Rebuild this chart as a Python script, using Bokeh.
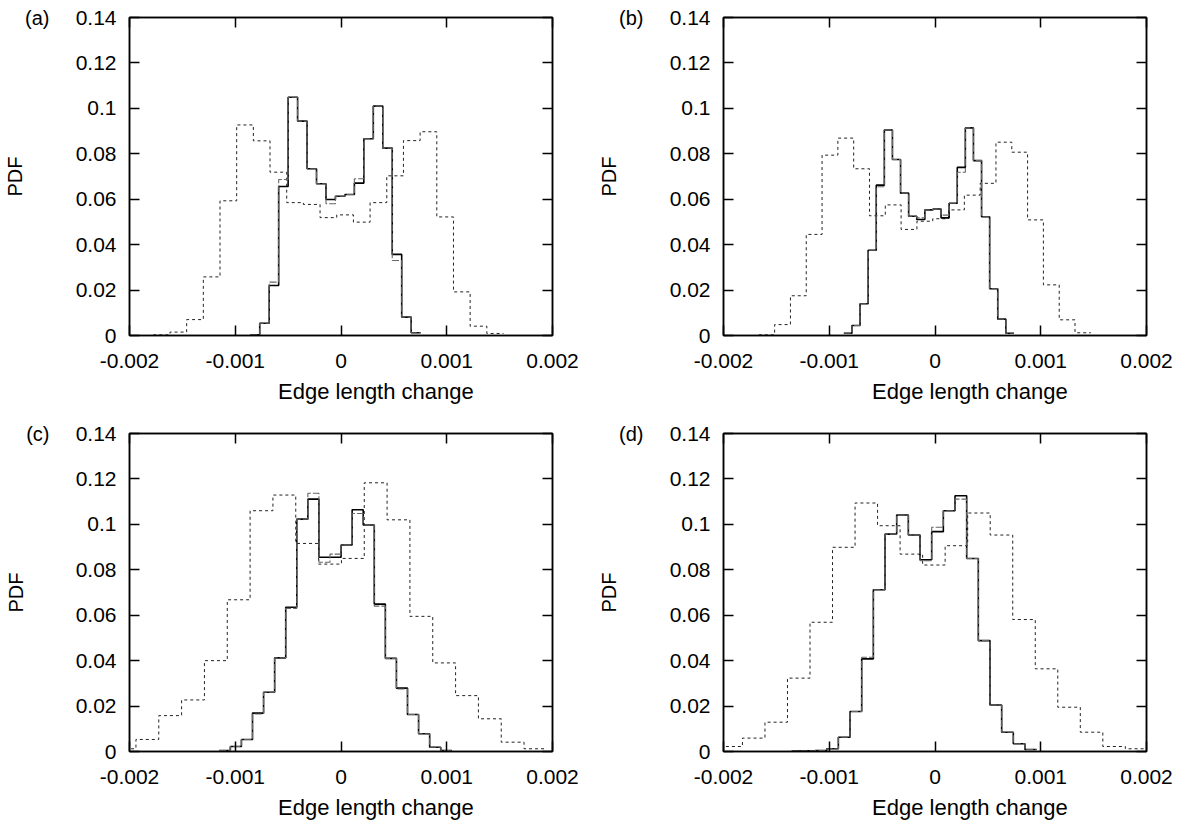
from bokeh.plotting import figure
from bokeh.models import Range1d, LinearAxis, FixedTicker
from bokeh.layouts import column, row
from bokeh.embed import file_html
from bokeh.resources import INLINE

# ---------------- data ----------------
x_ticks = [-0.002, -0.001, 0.0, 0.001, 0.002]
x_tick_labels = ["-0.002", "-0.001", "0", "0.001", "0.002"]
y_ticks = [0.0, 0.02, 0.04, 0.06, 0.08, 0.1, 0.12, 0.14]
y_tick_labels = ["0", "0.02", "0.04", "0.06", "0.08", "0.1", "0.12", "0.14"]
panel_labels = ["(a)", "(b)", "(c)", "(d)"]
x_title = "Edge length change"
y_title = "PDF"

# panel (a)
a_wide_start, a_wide_width = -0.001775, 0.0001577
a_wide = [0.0003, 0.0015, 0.0070, 0.0258, 0.0593, 0.0927, 0.0857, 0.0719, 0.0585, 0.0577,
          0.0519, 0.0531, 0.0499, 0.0585, 0.0703, 0.0858, 0.0897, 0.0522, 0.0192, 0.0041, 0.0009]
a_narrow_start, a_narrow_width = -0.000858, 0.0000895
a_solid = [0.0003, 0.0054, 0.0220, 0.0656, 0.1049, 0.0944, 0.0734, 0.0668, 0.0599, 0.0613,
           0.0621, 0.0671, 0.0866, 0.1010, 0.0825, 0.0357, 0.0081, 0.0012]
a_dashed = [0.0003, 0.0054, 0.0235, 0.0687, 0.1049, 0.0944, 0.0734, 0.0668, 0.0580, 0.0613,
            0.0621, 0.0690, 0.0866, 0.1010, 0.0825, 0.0330, 0.0081, 0.0012]

# panel (b)
b_wide_start, b_wide_width = -0.001666, 0.0001495
b_wide = [0.0003, 0.0048, 0.0175, 0.0445, 0.0794, 0.0869, 0.0734, 0.0527, 0.0575, 0.0467,
          0.0503, 0.0514, 0.0553, 0.0618, 0.0670, 0.0851, 0.0807, 0.0509, 0.0223, 0.0069, 0.0012]
b_narrow_start, b_narrow_width = -0.000862, 0.0000766
b_solid = [0.0010, 0.0044, 0.0140, 0.0375, 0.0662, 0.0905, 0.0775, 0.0627, 0.0525, 0.0511,
           0.0553, 0.0557, 0.0518, 0.0582, 0.0740, 0.0914, 0.0770, 0.0523, 0.0206, 0.0072, 0.0010]
b_dashed = [0.0010, 0.0044, 0.0140, 0.0375, 0.0655, 0.0905, 0.0775, 0.0627, 0.0525, 0.0518,
            0.0553, 0.0557, 0.0530, 0.0582, 0.0719, 0.0914, 0.0770, 0.0523, 0.0206, 0.0072, 0.0010]

# panel (c)
c_wide_start, c_wide_width = -0.002155, 0.0002159
c_wide = [0.0012, 0.0053, 0.0158, 0.0227, 0.0400, 0.0668, 0.1060, 0.1129, 0.0916, 0.0825,
          0.0850, 0.1183, 0.1020, 0.0595, 0.0390, 0.0246, 0.0144, 0.0041, 0.0012]
c_narrow_start, c_narrow_width = -0.001151, 0.0001047
c_solid = [0.0004, 0.0022, 0.0053, 0.0169, 0.0261, 0.0412, 0.0635, 0.1023, 0.1111, 0.0855,
           0.0855, 0.0909, 0.1064, 0.0997, 0.0649, 0.0410, 0.0279, 0.0163, 0.0078, 0.0019, 0.0004]
c_dashed = [0.0004, 0.0022, 0.0053, 0.0165, 0.0261, 0.0412, 0.0630, 0.1023, 0.1137, 0.0833,
            0.0869, 0.0909, 0.1048, 0.0997, 0.0640, 0.0410, 0.0275, 0.0163, 0.0078, 0.0019, 0.0004]

# panel (d)
d_wide_start, d_wide_width = -0.002034, 0.000213
d_wide = [0.0022, 0.0059, 0.0129, 0.0323, 0.0569, 0.0899, 0.1094, 0.0994, 0.0869, 0.0821,
          0.0906, 0.1050, 0.0953, 0.0581, 0.0364, 0.0195, 0.0085, 0.0022, 0.0012]
d_narrow_start, d_narrow_width = -0.001355, 0.0001103
d_solid = [0.0002, 0.0003, 0.0004, 0.0012, 0.0063, 0.0176, 0.0408, 0.0712, 0.0957, 0.1041,
           0.0953, 0.0844, 0.0968, 0.1060, 0.1126, 0.0850, 0.0488, 0.0205, 0.0085, 0.0034, 0.0009]
d_dashed = [0.0002, 0.0003, 0.0004, 0.0012, 0.0063, 0.0176, 0.0415, 0.0712, 0.0957, 0.1041,
            0.0953, 0.0840, 0.0987, 0.1060, 0.1111, 0.0850, 0.0488, 0.0205, 0.0085, 0.0034, 0.0009]

FONT = "Liberation Sans"
X_TITLE_POS = 0.00033   # x-title sits a little right of the frame centre, as in the original


def edges(start, width, vals):
    return [start + i * width for i in range(len(vals) + 1)]


def plain_axis(ticks, overrides, size, standoff):
    return LinearAxis(ticker=FixedTicker(ticks=ticks, minor_ticks=[]),
                      major_label_overrides=overrides, major_label_standoff=standoff,
                      major_label_text_font=FONT, major_label_text_font_size=size,
                      major_label_text_color="black",
                      major_tick_line_color=None, minor_tick_line_color=None,
                      axis_line_color=None, major_tick_in=0, major_tick_out=0,
                      minor_tick_in=0, minor_tick_out=0)


def make_panel(label, wide_start, wide_w, wide, nar_start, nar_w, solid, dashed,
               mb_right, mb_bottom, title_standoff):
    p = figure(frame_width=423, frame_height=318,
               x_range=Range1d(-0.002, 0.002), y_range=Range1d(0, 0.14),
               output_backend="svg", toolbar_location=None,
               min_border_left=129, min_border_right=mb_right,
               min_border_top=17, min_border_bottom=mb_bottom,
               background_fill_color="white", border_fill_color="white")
    p.grid.visible = False
    p.outline_line_color = "black"
    p.outline_line_width = 1.5
    p.outline_line_alpha = 1.0

    # histograms drawn as steps
    p.step(edges(wide_start, wide_w, wide), wide + [wide[-1]], mode="after",
           line_color="#222222", line_width=1, line_dash="3 3")
    p.step(edges(nar_start, nar_w, solid), solid + [solid[-1]], mode="after",
           line_color="black", line_width=1.6)
    p.step(edges(nar_start, nar_w, dashed), dashed + [dashed[-1]], mode="after",
           line_color="#666666", line_width=1.1, line_dash="7 2")

    bottom = p.below[0]
    left = p.left[0]
    bottom.ticker = FixedTicker(ticks=x_ticks, minor_ticks=[])
    bottom.major_label_overrides = dict(zip(x_ticks, x_tick_labels))
    bottom.major_label_standoff = 18
    bottom.major_label_text_font_size = "21px"

    left.ticker = FixedTicker(ticks=y_ticks, minor_ticks=[])
    left.major_label_overrides = dict(zip(y_ticks, y_tick_labels))
    left.major_label_standoff = 13
    left.major_label_text_font_size = "21px"

    top = LinearAxis(ticker=FixedTicker(ticks=x_ticks, minor_ticks=[]),
                     major_label_text_font_size="0px", major_label_text_color=None,
                     major_label_standoff=0)
    right = LinearAxis(ticker=FixedTicker(ticks=y_ticks, minor_ticks=[]),
                       major_label_text_font_size="0px", major_label_text_color=None,
                       major_label_standoff=0)
    p.add_layout(top, "above")
    p.add_layout(right, "right")

    for ax in (bottom, left, top, right):
        ax.major_tick_in = 10
        ax.major_tick_out = 0
        ax.minor_tick_in = 0
        ax.minor_tick_out = 0
        ax.major_tick_line_color = "black"
        ax.major_tick_line_width = 1.5
        ax.minor_tick_line_color = None
        ax.axis_line_color = "black"
        ax.axis_line_width = 1.5
        ax.major_label_text_font = FONT
    bottom.major_label_text_color = "black"
    left.major_label_text_color = "black"

    # panel tag "(a)" next to the top tick label, and the "PDF" title beyond it
    tag_y = y_ticks[-1]
    tag_ax = plain_axis([tag_y], {tag_y: label}, "20px", 23)
    tag_ax.axis_label = y_title
    tag_ax.axis_label_standoff = -4
    tag_ax.axis_label_text_font = FONT
    tag_ax.axis_label_text_font_size = "20px"
    tag_ax.axis_label_text_font_style = "normal"
    tag_ax.axis_label_text_color = "black"
    p.add_layout(tag_ax, "left")

    # x title
    title_ax = plain_axis([X_TITLE_POS], {X_TITLE_POS: x_title}, "22px", title_standoff)
    p.add_layout(title_ax, "below")
    return p


pa = make_panel(panel_labels[0], a_wide_start, a_wide_width, a_wide,
                a_narrow_start, a_narrow_width, a_solid, a_dashed, 42, 81, 8)
pb = make_panel(panel_labels[1], b_wide_start, b_wide_width, b_wide,
                b_narrow_start, b_narrow_width, b_solid, b_dashed, 40, 81, 8)
pc = make_panel(panel_labels[2], c_wide_start, c_wide_width, c_wide,
                c_narrow_start, c_narrow_width, c_solid, c_dashed, 42, 74, 8)
pd = make_panel(panel_labels[3], d_wide_start, d_wide_width, d_wide,
                d_narrow_start, d_narrow_width, d_solid, d_dashed, 40, 74, 8)

layout = column(row(pa, pb), row(pc, pd))
open("out.html", "w").write(file_html(layout, INLINE))
